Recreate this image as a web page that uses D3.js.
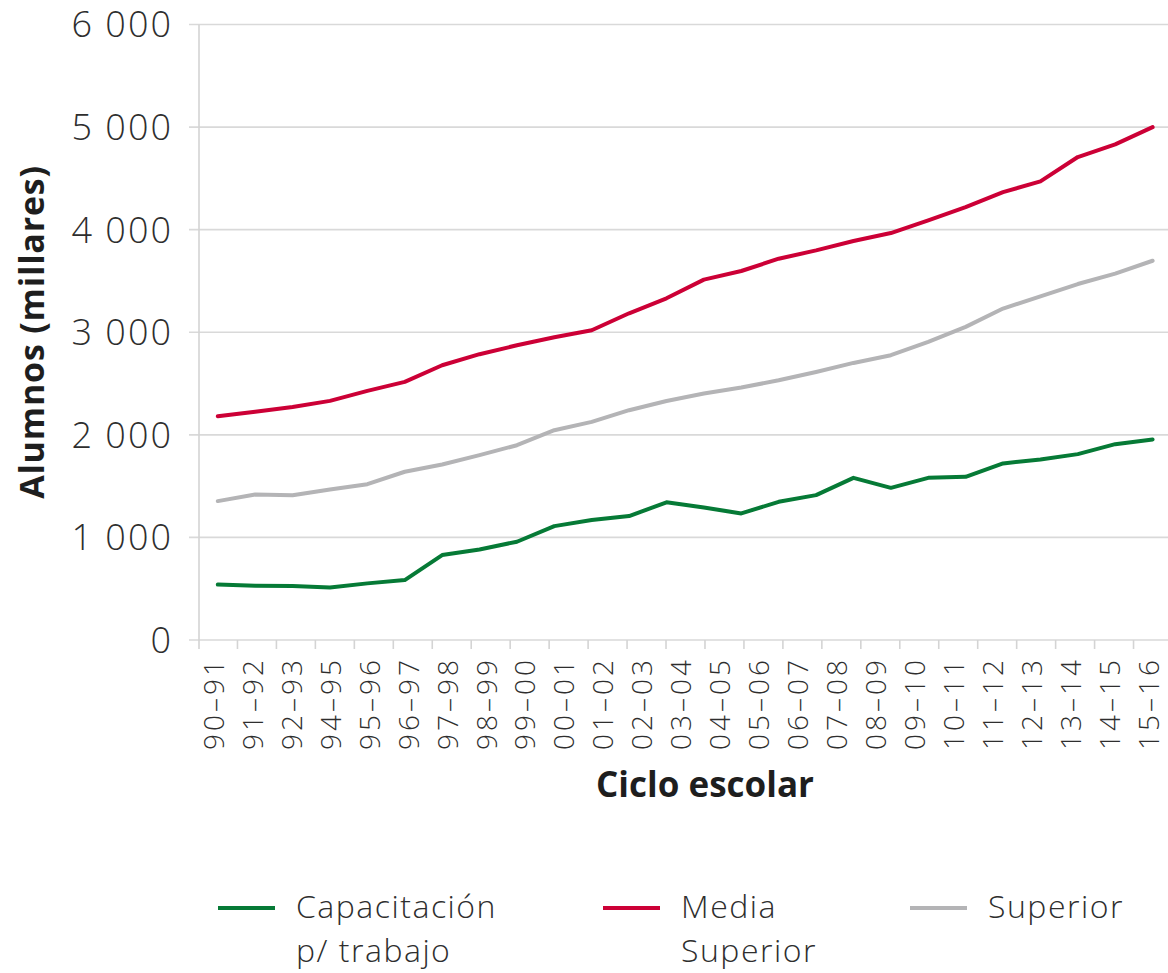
<!DOCTYPE html>
<html>
<head>
<meta charset="utf-8">
<script src="https://cdn.jsdelivr.net/npm/d3@7"></script>
<style>
  body { margin: 0; background: #fff; }
  svg { display: block; font-family: "Open Sans", sans-serif; }
</style>
</head>
<body>
<svg id="chart" width="1168" height="973"></svg>
<script>
// school years of the data (26 points; the axis skips 93-94)
const years = ["90-91","91-92","92-93","93-94","94-95","95-96","96-97","97-98","98-99","99-00",
  "00-01","01-02","02-03","03-04","04-05","05-06","06-07","07-08","08-09","09-10",
  "10-11","11-12","12-13","13-14","14-15","15-16"];
// labels shown on the axis
const axisLabels = ["90–91","91–92","92–93","94–95","95–96","96–97","97–98","98–99","99–00",
  "00–01","01–02","02–03","03–04","04–05","05–06","06–07","07–08","08–09","09–10",
  "10–11","11–12","12–13","13–14","14–15","15–16"];

const capacitacion = [540, 530, 526, 512, 552, 584, 828, 883, 958, 1110, 1169, 1208, 1342,
  1292, 1234, 1347, 1412, 1581, 1483, 1581, 1591, 1721, 1760, 1812, 1909, 1955];
const mediaSuperior = [2182, 2224, 2272, 2331, 2428, 2516, 2678, 2786, 2873, 2951, 3019, 3185,
  3331, 3513, 3597, 3717, 3798, 3889, 3967, 4091, 4220, 4366, 4471, 4708, 4831, 4999];
const superior = [1354, 1419, 1412, 1468, 1519, 1640, 1711, 1802, 1899, 2045, 2126, 2240, 2330,
  2403, 2461, 2532, 2613, 2701, 2776, 2906, 3052, 3231, 3350, 3470, 3572, 3697];

const yTicks = [0, 1000, 2000, 3000, 4000, 5000, 6000];

const series = [
  { name: ["Capacitación", "p/ trabajo"], values: capacitacion, color: "#067a36" },
  { name: ["Media", "Superior"], values: mediaSuperior, color: "#cc0036" },
  { name: ["Superior"], values: superior, color: "#b4b4b6" }
];

const svg = d3.select("#chart");

const y = d3.scaleLinear().domain([0, 6000]).range([640, 24.5]);
const xBand = d3.scaleBand().domain(axisLabels).range([198.5, 1172.5]).padding(0);
const xPt = d3.scalePoint().domain(years).range([217.8, 1152.6]);

// gridlines
svg.append("g")
  .selectAll("line")
  .data(yTicks)
  .join("line")
  .attr("x1", 189).attr("x2", 1172)
  .attr("y1", d => y(d)).attr("y2", d => y(d))
  .attr("stroke", "#d9d9d9").attr("stroke-width", 1.6);

// y axis line
svg.append("line")
  .attr("x1", 199).attr("x2", 199)
  .attr("y1", y(6000)).attr("y2", 649)
  .attr("stroke", "#d4d4d4").attr("stroke-width", 1.6);

// x ticks at band edges
const edges = axisLabels.slice(1).map(d => xBand(d));
svg.append("g")
  .selectAll("line")
  .data(edges)
  .join("line")
  .attr("x1", d => d).attr("x2", d => d)
  .attr("y1", 640).attr("y2", 649)
  .attr("stroke", "#d4d4d4").attr("stroke-width", 1.6);

// y tick labels
const fmt = d => d3.format(",")(d).replace(",", " ");
svg.append("g")
  .selectAll("text")
  .data(yTicks)
  .join("text")
  .attr("x", 173)
  .attr("y", d => y(d))
  .attr("dy", "0.36em")
  .attr("text-anchor", "end")
  .attr("font-size", 36)
  .attr("font-weight", 300)
  .attr("letter-spacing", 2)
  .attr("fill", "#2e2e2e")
  .text(fmt);

// x tick labels
svg.append("g")
  .selectAll("text")
  .data(axisLabels)
  .join("text")
  .attr("transform", d => `translate(${xBand(d) + xBand.bandwidth() / 2 - 4},657) rotate(-90)`)
  .attr("dy", "0.35em")
  .attr("text-anchor", "end")
  .attr("font-size", 28)
  .attr("font-weight", 300)
  .attr("letter-spacing", 3)
  .attr("fill", "#2e2e2e")
  .text(d => d);

// axis titles
svg.append("text")
  .attr("transform", "translate(32,332) rotate(-90)")
  .attr("dy", "0.35em")
  .attr("text-anchor", "middle")
  .attr("font-size", 34)
  .attr("font-weight", 700)
  .attr("letter-spacing", 0.8)
  .attr("fill", "#1e1e1e")
  .text("Alumnos (millares)");

svg.append("text")
  .attr("x", 705).attr("y", 785)
  .attr("dy", "0.35em")
  .attr("text-anchor", "middle")
  .attr("font-size", 35)
  .attr("font-weight", 700)
  .attr("fill", "#1e1e1e")
  .text("Ciclo escolar");

// lines
const line = d3.line()
  .x((d, i) => xPt(years[i]))
  .y(d => y(d));

svg.append("g")
  .selectAll("path")
  .data(series)
  .join("path")
  .attr("d", d => line(d.values))
  .attr("fill", "none")
  .attr("stroke", d => d.color)
  .attr("stroke-width", 4)
  .attr("stroke-linejoin", "round")
  .attr("stroke-linecap", "round");

// legend
const legendX = [218, 603, 910];
const leg = svg.append("g")
  .selectAll("g")
  .data(series)
  .join("g")
  .attr("transform", (d, i) => `translate(${legendX[i]},908)`);

leg.append("line")
  .attr("x1", 0).attr("x2", 57)
  .attr("stroke", d => d.color)
  .attr("stroke-width", 4);

leg.selectAll("text")
  .data(d => d.name)
  .join("text")
  .attr("x", 78)
  .attr("y", (d, i) => i * 44 - 1)
  .attr("dy", "0.35em")
  .attr("font-size", 32)
  .attr("font-weight", 300)
  .attr("letter-spacing", 1.5)
  .attr("fill", "#2e2e2e")
  .text(d => d);
</script>
</body>
</html>
